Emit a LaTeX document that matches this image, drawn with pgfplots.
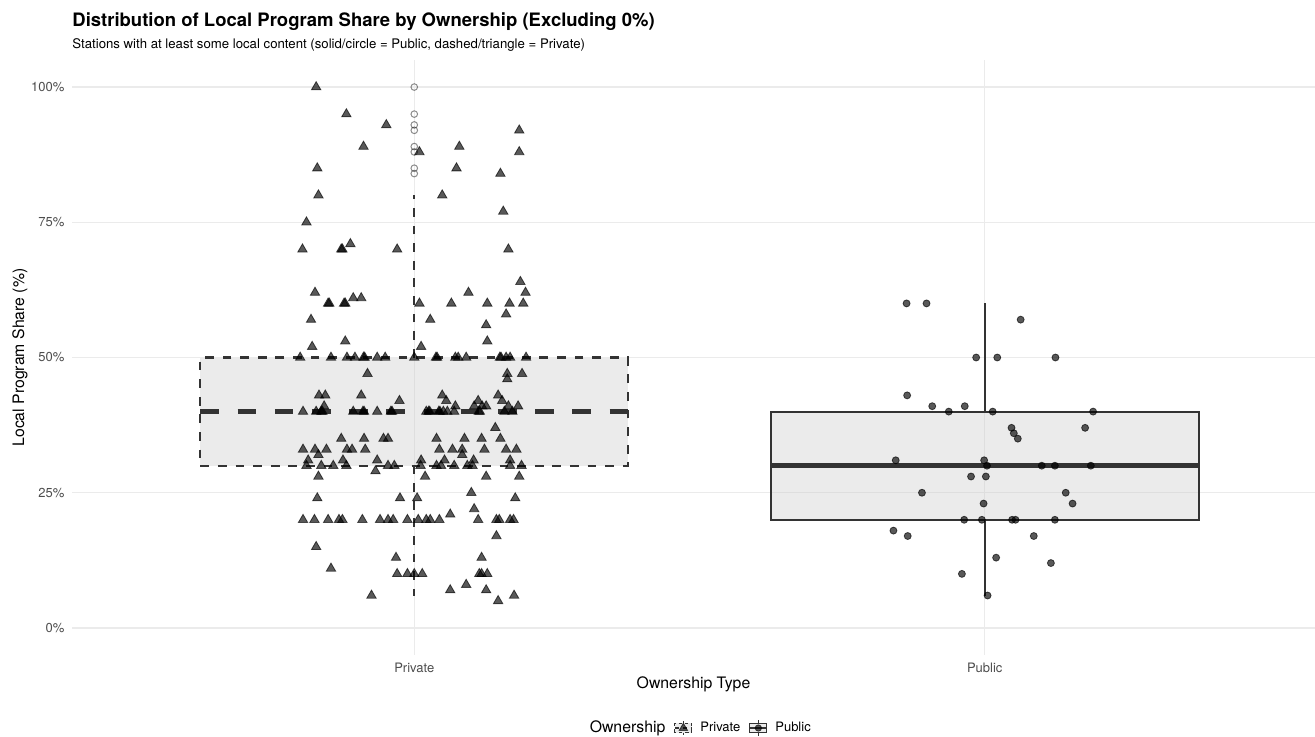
\documentclass[border=0pt]{standalone}
\usepackage{fontspec}
\setmainfont{TeX Gyre Heros}
\usepackage{pgfplots}
\pgfplotsset{compat=1.18}
\definecolor{dk}{HTML}{333333}
\definecolor{gridc}{HTML}{EBEBEB}
\definecolor{tickc}{HTML}{4D4D4D}
\begin{document}
\begin{tikzpicture}
\begin{axis}[
  at={(36pt,40.5pt)}, anchor=south west,
  scale only axis, width=621.5pt, height=297.5pt,
  xmin=0.4, xmax=2.579, ymin=-5, ymax=105,
  clip=false,
  axis line style={draw=none}, tick style={draw=none},
  xtick={1,2}, xticklabels={Private,Public},
  ytick={0,25,50,75,100}, yticklabels={0\%,25\%,50\%,75\%,100\%},
  xmajorgrids, ymajorgrids,
  major grid style={draw=gridc, line width=0.6pt},
  ticklabel style={font=\fontsize{6.5}{7.5}\selectfont, text=tickc},
  yticklabel style={anchor=east, inner sep=0pt, xshift=-3.6pt},
  xticklabel style={anchor=north, inner sep=0pt, yshift=-3.6pt},
  xlabel={Ownership Type}, ylabel={Local Program Share (\%)},
  xlabel style={at={(axis description cs:0.5,-0.0496)}, anchor=center, inner sep=0pt, font=\fontsize{7.9}{9}\selectfont},
  ylabel style={at={(axis description cs:-0.0418,0.5)}, anchor=center, inner sep=0pt, font=\fontsize{7.9}{9}\selectfont},
  legend style={at={(0.504,-0.1227)}, anchor=center, draw=none, fill=none, legend columns=-1,
    font=\fontsize{6.5}{7.5}\selectfont,
    /tikz/every odd column/.append style={column sep=1.8pt},
    /tikz/every even column/.append style={column sep=2.3pt}},
  legend entries={{\fontsize{7.9}{9}\selectfont Ownership}, Private, Public},
]
\addlegendimage{empty legend}
\addlegendimage{legend image code/.code={
  \draw[dk, line width=0.5pt, fill=black!20, fill opacity=0.4, dash pattern=on 1.6pt off 1.6pt] (0.6pt,-2.3pt) rectangle (9pt,2.3pt);
  \draw[dk, line width=0.5pt, dash pattern=on 1.4pt off 1.4pt] (4.8pt,2.3pt) -- (4.8pt,3.9pt) (4.8pt,-2.3pt) -- (4.8pt,-3.9pt);
  \draw[dk, line width=1pt, dash pattern=on 2pt off 2pt] (0.6pt,0pt) -- (9pt,0pt);
  \fill[black, opacity=0.65] (4.8pt,2.4pt) -- (2.7pt,-1.2pt) -- (6.9pt,-1.2pt) -- cycle;
}}
\addlegendimage{legend image code/.code={
  \draw[dk, line width=0.5pt, fill=black!20, fill opacity=0.4] (0.6pt,-2.3pt) rectangle (9pt,2.3pt);
  \draw[dk, line width=0.5pt] (4.8pt,2.3pt) -- (4.8pt,3.9pt) (4.8pt,-2.3pt) -- (4.8pt,-3.9pt);
  \draw[dk, line width=1pt] (0.6pt,0pt) -- (9pt,0pt);
  \fill[black, opacity=0.65] (4.8pt,0pt) circle (1.6pt);
}}

% ---- Private box (Q1=30, median=40, Q3=50, whiskers 6 and 80), dashed
\addplot[draw=dk, line width=1.1pt, dash pattern=on 4.4pt off 4.4pt, fill=black!20, fill opacity=0.4, mark=none]
  coordinates {(0.625,30) (1.375,30) (1.375,50) (0.625,50)} -- cycle;
\addplot[draw=dk, line width=1.1pt, dash pattern=on 4.4pt off 4.4pt, mark=none] coordinates {(1,50) (1,80)};
\addplot[draw=dk, line width=1.1pt, dash pattern=on 4.4pt off 4.4pt, mark=none] coordinates {(1,30) (1,6)};
\addplot[draw=dk, line width=2.3pt, dash pattern=on 9.3pt off 9.3pt, mark=none] coordinates {(0.625,40) (1.375,40)};
% ---- Public box (Q1=20, median=30, Q3=40, whiskers 6 and 60), solid
\addplot[draw=dk, line width=1.1pt, fill=black!20, fill opacity=0.4, mark=none]
  coordinates {(1.625,20) (2.375,20) (2.375,40) (1.625,40)} -- cycle;
\addplot[draw=dk, line width=1.1pt, mark=none] coordinates {(2,40) (2,60)};
\addplot[draw=dk, line width=1.1pt, mark=none] coordinates {(2,20) (2,6)};
\addplot[draw=dk, line width=2.3pt, mark=none] coordinates {(1.625,30) (2.375,30)};
% Private outliers
\addplot[only marks, mark=o, mark size=1.65pt, mark options={draw=black, draw opacity=0.45, line width=0.5pt, solid}]
  coordinates {(1,100)(1,95)(1,93)(1,92)(1,89)(1,88)(1,85)(1,84)};
% Private jittered points
\addplot[only marks, mark=triangle*, mark size=2.7pt, mark options={draw=none, fill=black, opacity=0.65}] coordinates {
(0.828,100) (0.881,95) (0.951,93) (1.184,92) (0.911,89) (1.009,88) (1.079,89) (1.184,88) (0.830,85) (1.074,85) (1.151,84) (0.832,80) (1.049,80) (1.156,77) (0.811,75) (0.804,70) (0.872,70) (0.874,70) (0.888,71) (0.970,70) (1.165,70)
(1.186,64) (1.195,62) (0.826,62) (1.095,62) (0.849,60) (0.851,60) (0.877,60) (0.879,60) (0.893,61) (0.907,61) (1.009,60) (1.065,60) (1.128,60) (1.167,60) (1.191,60) (1.161,58) (1.028,57) (0.819,57) (1.126,56) (0.879,53) (1.128,53) (0.821,52) (1.012,52)
(0.800,50) (0.854,50) (0.882,50) (0.896,50) (0.911,50) (0.913,50) (0.935,50) (0.949,50) (1.000,50) (1.038,50) (1.040,50) (1.072,50) (1.077,50) (1.091,50) (1.150,50) (1.152,50) (1.161,50) (1.168,50) (1.196,50)
(0.918,47) (1.163,47) (1.189,47) (1.163,46)
(0.833,43) (0.844,43) (0.907,43) (1.049,43) (1.147,43) (0.974,42) (1.056,42) (1.112,42) (1.154,42)
(0.842,41) (1.072,41) (1.105,41) (1.119,41) (1.126,41) (1.165,41) (1.182,41)
(0.805,40) (0.828,40) (0.837,40) (0.839,40) (0.893,40) (0.910,40) (0.912,40) (0.935,40) (0.959,40) (0.961,40) (1.021,40) (1.025,40) (1.027,40) (1.043,40) (1.045,40) (1.051,40) (1.058,40) (1.070,40) (1.113,40) (1.115,40) (1.158,40) (1.172,40)
(1.142,37)
(0.872,35) (0.912,35) (0.946,35) (0.954,35) (1.039,35) (1.088,35) (1.118,35) (1.151,35)
(0.805,33) (0.826,33) (0.846,33) (0.882,33) (0.891,33) (0.914,33) (1.044,33) (1.067,33) (1.084,33) (1.123,33) (1.161,33) (1.179,33)
(0.832,32) (1.084,32)
(0.814,31) (0.875,31) (0.935,31) (1.012,31) (1.053,31) (1.104,31) (1.168,31)
(0.811,30) (0.837,30) (0.858,30) (0.881,30) (0.954,30) (0.965,30) (1.011,30) (1.039,30) (1.047,30) (1.070,30) (1.093,30) (1.102,30) (1.168,30) (1.188,30)
(0.932,29)
(0.832,28) (1.019,28) (1.126,28) (1.184,28)
(1.100,25)
(0.830,24) (0.975,24) (1.005,24) (1.177,24)
(1.105,22) (1.063,21)
(0.805,20) (0.825,20) (0.849,20) (0.868,20) (0.874,20) (0.909,20) (0.940,20) (0.954,20) (0.963,20) (0.988,20) (1.007,20) (1.021,20) (1.028,20) (1.044,20) (1.112,20) (1.144,20) (1.149,20) (1.168,20) (1.174,20)
(1.144,17) (0.828,15) (0.968,13) (1.118,13) (0.854,11)
(0.970,10) (0.988,10) (1.000,10) (1.014,10) (1.114,10) (1.118,10) (1.128,10)
(1.091,8) (1.063,7) (1.126,7) (0.925,6) (1.175,6) (1.147,5)
};
% Public jittered points
\addplot[only marks, mark=*, mark size=1.75pt, mark options={draw=none, fill=black, opacity=0.65}] coordinates {
(1.863,60) (1.898,60) (2.063,57) (1.985,50) (2.022,50) (2.124,50) (1.864,43) (1.908,41) (1.937,40) (1.965,41)
(2.014,40) (2.190,40) (2.176,37) (2.047,37) (2.051,36) (2.058,35) (1.844,31) (1.999,31) (2.004,30) (2.100,30)
(2.123,30) (2.186,30) (1.976,28) (2.002,28) (1.890,25) (2.142,25) (2.154,23) (1.998,23) (1.964,20) (1.995,20)
(2.048,20) (2.054,20) (2.123,20) (1.840,18) (1.865,17) (2.086,17) (2.020,13) (2.116,12) (1.960,10) (2.005,6)
};
\node[anchor=base west, inner sep=0pt, yshift=16.9pt, font=\fontsize{9.25}{11}\selectfont\bfseries]
  at (rel axis cs:0,1) {Distribution of Local Program Share by Ownership (Excluding 0\%)};
\node[anchor=base west, inner sep=0pt, yshift=6pt, font=\fontsize{6.6}{8}\selectfont]
  at (rel axis cs:0,1) {Stations with at least some local content (solid/circle = Public, dashed/triangle = Private)};
\end{axis}
\pgfresetboundingbox
\path[use as bounding box] (0pt,0pt) rectangle (657.5pt,368pt);
\end{tikzpicture}
\end{document}
